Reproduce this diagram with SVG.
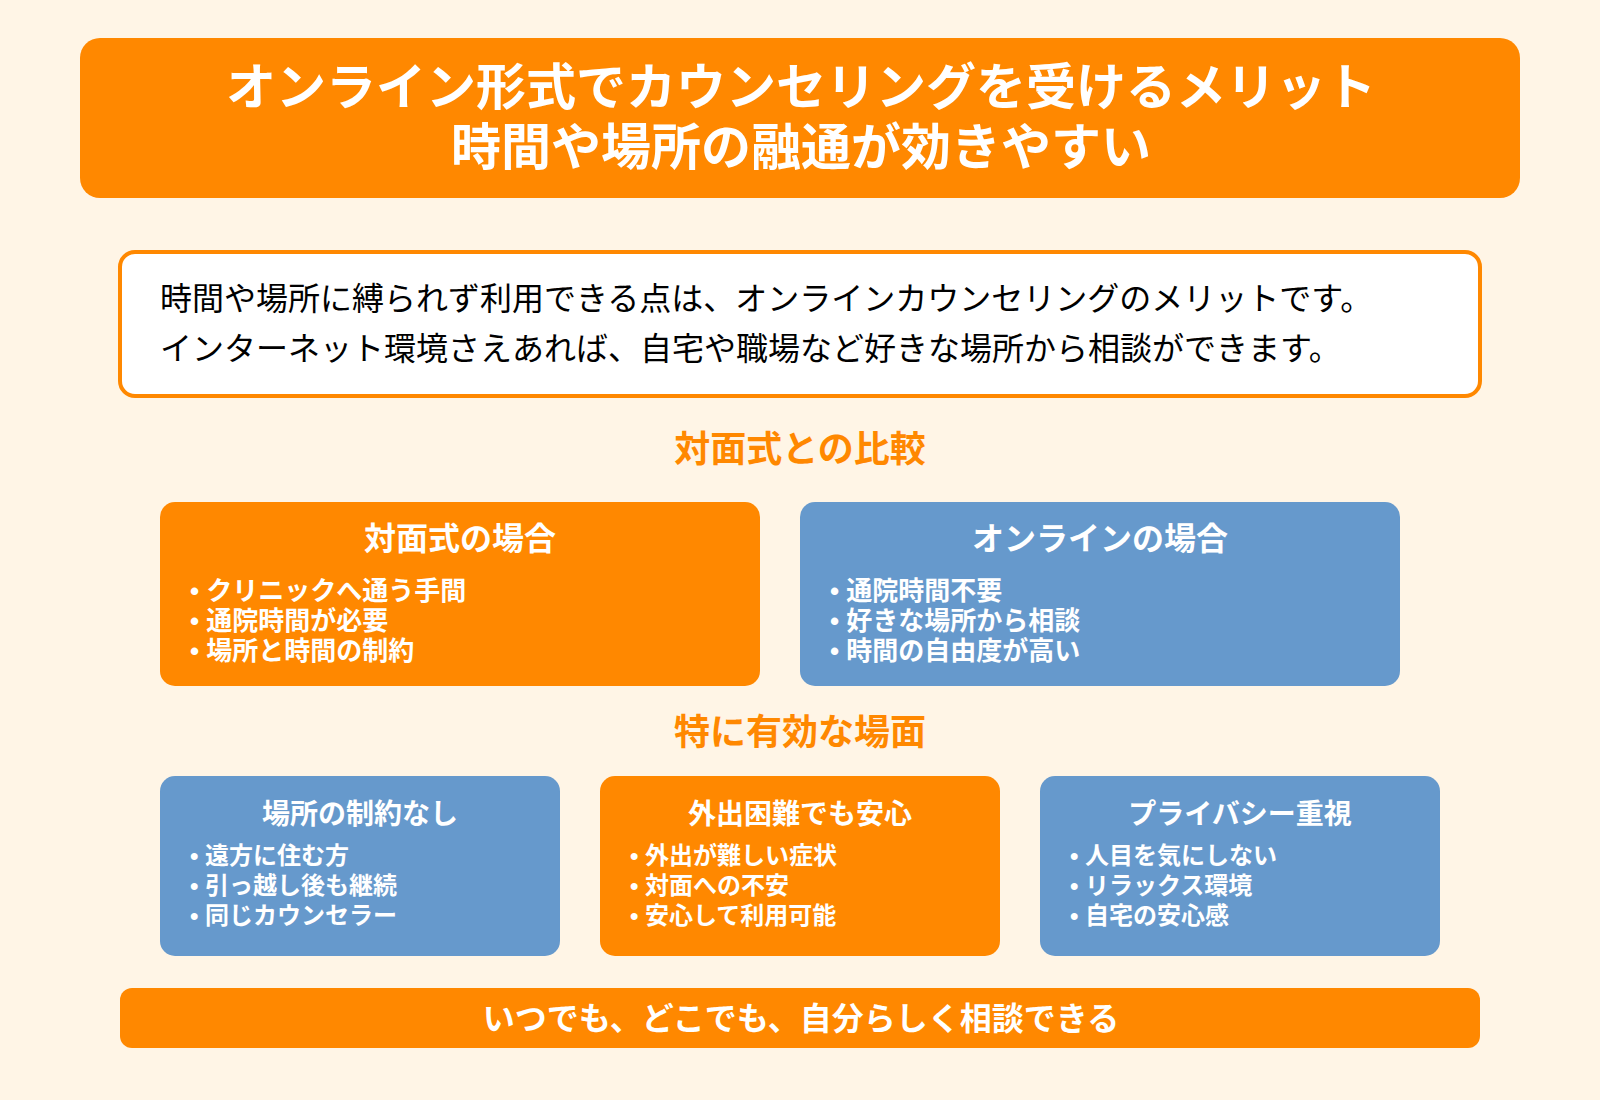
<svg xmlns="http://www.w3.org/2000/svg" width="1600" height="1100" viewBox="0 0 1600 1100">
<style>
text{font-family:"Liberation Sans","Noto Sans CJK JP",sans-serif;}
.w{fill:#fff;font-weight:700}
.c{text-anchor:middle}
.o{fill:#FF8800}.b{fill:#6699CC}
.h1{font-size:50px}
.intro{font-size:32px;fill:#000}
.sec{font-size:36px;fill:#FF8800;font-weight:700;text-anchor:middle}
.h2{font-size:32px}
.li{font-size:26px}
.h3{font-size:28px}
.li2{font-size:24px}
.foot{font-size:32px}
</style>
<rect width="1600" height="1100" fill="#FFF5E6"/>
<g id="title"><rect class="o" x="80" y="38" width="1440" height="160" rx="20"/>
<text class="w c h1" x="801" y="105">オンライン形式でカウンセリングを受けるメリット</text>
<text class="w c h1" x="801" y="165">時間や場所の融通が効きやすい</text></g>
<g id="intro"><rect x="120" y="252" width="1360" height="144" rx="15" fill="#fff" stroke="#FF8800" stroke-width="4"/>
<text class="intro" x="160" y="310">時間や場所に縛られず利用できる点は、オンラインカウンセリングのメリットです。</text>
<text class="intro" x="160" y="360">インターネット環境さえあれば、自宅や職場など好きな場所から相談ができます。</text></g>
<g id="sec1"><text class="sec" x="800" y="462">対面式との比較</text></g>
<g id="face"><rect class="o" x="160" y="502" width="600" height="184" rx="15"/>
<text class="w c h2" x="460" y="550">対面式の場合</text>
<text class="w li" x="190" y="600">• クリニックへ通う手間</text>
<text class="w li" x="190" y="630">• 通院時間が必要</text>
<text class="w li" x="190" y="660">• 場所と時間の制約</text></g>
<g id="online"><rect class="b" x="800" y="502" width="600" height="184" rx="15"/>
<text class="w c h2" x="1100" y="550">オンラインの場合</text>
<text class="w li" x="830" y="600">• 通院時間不要</text>
<text class="w li" x="830" y="630">• 好きな場所から相談</text>
<text class="w li" x="830" y="660">• 時間の自由度が高い</text></g>
<g id="sec2"><text class="sec" x="800" y="745">特に有効な場面</text></g>
<g id="card1"><rect class="b" x="160" y="776" width="400" height="180" rx="15"/>
<text class="w c h3" x="360" y="824">場所の制約なし</text>
<text class="w li2" x="190" y="864">• 遠方に住む方</text>
<text class="w li2" x="190" y="894">• 引っ越し後も継続</text>
<text class="w li2" x="190" y="924">• 同じカウンセラー</text></g>
<g id="card2"><rect class="o" x="600" y="776" width="400" height="180" rx="15"/>
<text class="w c h3" x="800" y="824">外出困難でも安心</text>
<text class="w li2" x="630" y="864">• 外出が難しい症状</text>
<text class="w li2" x="630" y="894">• 対面への不安</text>
<text class="w li2" x="630" y="924">• 安心して利用可能</text></g>
<g id="card3"><rect class="b" x="1040" y="776" width="400" height="180" rx="15"/>
<text class="w c h3" x="1240" y="824">プライバシー重視</text>
<text class="w li2" x="1070" y="864">• 人目を気にしない</text>
<text class="w li2" x="1070" y="894">• リラックス環境</text>
<text class="w li2" x="1070" y="924">• 自宅の安心感</text></g>
<g id="footer"><rect class="o" x="120" y="988" width="1360" height="60" rx="12"/>
<text class="w c foot" x="801" y="1030">いつでも、どこでも、自分らしく相談できる</text></g>
</svg>
